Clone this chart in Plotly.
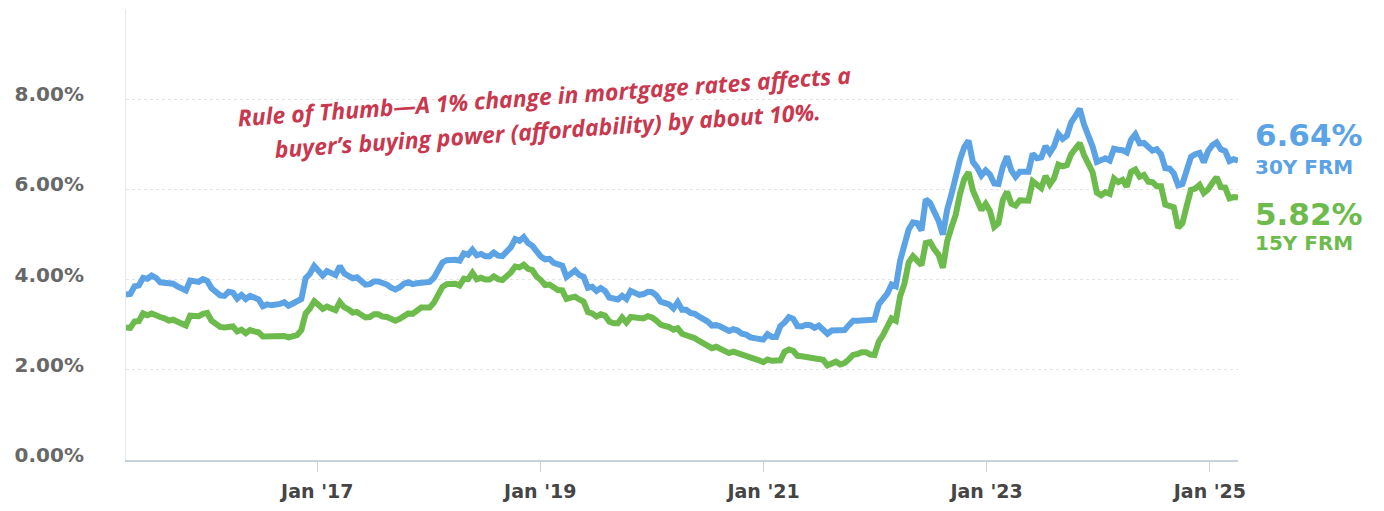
import pandas as pd
import plotly.graph_objects as go

# Weekly Freddie Mac PMMS readings, sampled every two weeks (Thursdays)
start_date = "2015-04-16"
step = "14D"

rate_30y = [
    # 2015
    3.67, 3.68, 3.85, 3.87, 4.04, 4.02, 4.09, 4.04, 3.94, 3.93, 3.89, 3.91, 3.85, 3.82, 3.76, 3.98, 3.95, 3.95, 4.01,
    # 2016
    3.97, 3.81, 3.72, 3.65, 3.64, 3.73, 3.71, 3.58, 3.66, 3.57, 3.64, 3.60, 3.56, 3.41, 3.45, 3.43, 3.43, 3.46, 3.50, 3.42,
    3.47, 3.54, 3.57, 4.03, 4.13, 4.30,
    # 2017
    4.20, 4.09, 4.19, 4.15, 4.10, 4.30, 4.14, 4.08, 4.03, 4.05, 3.95, 3.89, 3.90, 3.96, 3.96, 3.93, 3.89, 3.82, 3.78, 3.83,
    3.91, 3.94, 3.90, 3.92, 3.94, 3.94,
    # 2018
    3.95, 4.04, 4.22, 4.38, 4.43, 4.44, 4.44, 4.42, 4.58, 4.55, 4.66, 4.54, 4.57, 4.52, 4.52, 4.60, 4.53, 4.52, 4.60, 4.72,
    4.90, 4.86, 4.94, 4.81, 4.75, 4.62,
    # 2019
    4.51, 4.45, 4.46, 4.37, 4.35, 4.31, 4.06, 4.12, 4.20, 4.10, 4.06, 3.82, 3.84, 3.75, 3.81, 3.75, 3.60, 3.58, 3.56, 3.64,
    3.57, 3.75, 3.69, 3.66, 3.68, 3.73,
    # 2020
    3.72, 3.65, 3.51, 3.47, 3.45, 3.36, 3.50, 3.33, 3.33, 3.26, 3.24, 3.18, 3.13, 3.07, 2.98, 2.99, 2.96, 2.91, 2.86, 2.90,
    2.87, 2.80, 2.78, 2.72, 2.71, 2.67, 2.67,
    # 2021
    2.79, 2.73, 2.73, 2.97, 3.05, 3.17, 3.13, 2.97, 2.96, 3.00, 2.99, 2.93, 2.98, 2.88, 2.80, 2.87, 2.87, 2.88, 2.88, 2.99,
    3.09, 3.09, 3.10, 3.11, 3.12, 3.11,
    # 2022
    3.45, 3.55, 3.69, 3.89, 3.85, 4.42, 4.72, 5.11, 5.27, 5.25, 5.09, 5.78, 5.70, 5.51, 5.30, 5.00, 5.55, 5.89, 6.29, 6.66,
    6.94, 7.08, 6.61, 6.49, 6.31, 6.42,
    # 2023
    6.33, 6.13, 6.12, 6.50, 6.73, 6.42, 6.28, 6.39, 6.39, 6.39, 6.79, 6.69, 6.71, 6.96, 6.81, 6.96, 7.23, 7.12, 7.19, 7.49,
    7.63, 7.79, 7.44, 7.22, 6.95, 6.61,
    # 2024
    6.66, 6.69, 6.64, 6.90, 6.88, 6.87, 6.82, 7.10, 7.22, 7.02, 7.03, 6.95, 6.86, 6.89, 6.78, 6.47, 6.46, 6.35, 6.09, 6.12,
    6.44, 6.72, 6.78, 6.81, 6.60, 6.85,
    # 2025
    6.98, 7.04, 6.89, 6.85, 6.63, 6.67, 6.64,
]

rate_15y = [
    # 2015
    2.94, 2.93, 3.07, 3.08, 3.25, 3.21, 3.25, 3.20, 3.17, 3.14, 3.09, 3.11, 3.07, 3.03, 2.98, 3.20, 3.18, 3.19, 3.24,
    # 2016
    3.26, 3.09, 3.00, 2.95, 2.94, 2.96, 2.96, 2.85, 2.89, 2.81, 2.88, 2.85, 2.83, 2.74, 2.74, 2.74, 2.74, 2.76, 2.75, 2.72,
    2.76, 2.77, 2.88, 3.25, 3.36, 3.52,
    # 2017
    3.44, 3.35, 3.40, 3.37, 3.32, 3.50, 3.39, 3.34, 3.27, 3.28, 3.20, 3.16, 3.17, 3.23, 3.23, 3.18, 3.17, 3.13, 3.09, 3.13,
    3.20, 3.25, 3.24, 3.32, 3.38, 3.38,
    # 2018
    3.38, 3.49, 3.68, 3.84, 3.90, 3.90, 3.91, 3.87, 4.02, 4.01, 4.15, 4.01, 4.04, 4.00, 4.00, 4.07, 4.01, 3.99, 4.06, 4.16,
    4.29, 4.27, 4.33, 4.24, 4.21, 4.07,
    # 2019
    3.99, 3.88, 3.89, 3.81, 3.77, 3.76, 3.57, 3.60, 3.62, 3.56, 3.51, 3.28, 3.25, 3.18, 3.23, 3.20, 3.07, 3.03, 3.03, 3.16,
    3.05, 3.17, 3.16, 3.15, 3.14, 3.19,
    # 2020
    3.16, 3.09, 3.00, 2.97, 2.95, 2.89, 2.92, 2.80, 2.77, 2.73, 2.70, 2.64, 2.59, 2.56, 2.48, 2.51, 2.46, 2.42, 2.37, 2.40,
    2.37, 2.33, 2.33, 2.28, 2.26, 2.21, 2.17,
    # 2021
    2.23, 2.20, 2.19, 2.21, 2.40, 2.45, 2.42, 2.31, 2.30, 2.29, 2.25, 2.24, 2.26, 2.22, 2.10, 2.15, 2.18, 2.12, 2.15, 2.23,
    2.33, 2.35, 2.39, 2.39, 2.34, 2.33,
    # 2022
    2.62, 2.77, 2.93, 3.14, 3.09, 3.63, 3.91, 4.38, 4.52, 4.43, 4.32, 4.81, 4.83, 4.67, 4.55, 4.26, 4.85, 5.16, 5.44, 5.90,
    6.23, 6.38, 5.98, 5.76, 5.54, 5.68,
    # 2023
    5.52, 5.17, 5.25, 5.76, 5.95, 5.68, 5.64, 5.76, 5.75, 5.75, 6.18, 6.10, 6.03, 6.30, 6.11, 6.25, 6.55, 6.51, 6.54, 6.78,
    6.92, 7.03, 6.76, 6.56, 6.38, 5.93,
    # 2024
    5.87, 5.94, 5.90, 6.24, 6.16, 6.21, 6.06, 6.39, 6.44, 6.28, 6.32, 6.17, 6.16, 6.07, 6.07, 5.66, 5.62, 5.60, 5.15, 5.25,
    5.63, 5.99, 6.02, 6.10, 5.92, 6.00,
    # 2025
    6.14, 6.27, 6.05, 6.04, 5.80, 5.83, 5.82,
]

y_tick_values = [0, 2, 4, 6, 8, 10]
y_tick_labels = ["0.00%", "2.00%", "4.00%", "6.00%", "8.00%", ""]
x_tick_values = ["2017-01-01", "2019-01-01", "2021-01-01", "2023-01-01", "2025-01-01"]
x_tick_labels = ["Jan '17", "Jan '19", "Jan '21", "Jan '23", "Jan '25"]
series_names = ["30Y FRM", "15Y FRM"]
note_lines = [
    "Rule of Thumb\u2014A 1% change in mortgage rates affects a",
    "buyer\u2019s buying power (affordability) by about 10%.",
]

dates = pd.date_range(start=start_date, periods=len(rate_30y), freq=step)

BLUE = "#5ba3e4"
GREEN = "#6dbb4c"
NOTE = "#c8384f"

fig = go.Figure()
fig.add_trace(go.Scatter(x=dates, y=rate_30y, mode="lines", name=series_names[0],
                         line=dict(color=BLUE, width=6, shape="linear")))
fig.add_trace(go.Scatter(x=dates, y=rate_15y, mode="lines", name=series_names[1],
                         line=dict(color=GREEN, width=6, shape="linear")))

W, H = 1384, 511
L, R, T, B = 126, 146, 9, 47
pw, ph = W - L - R, H - T - B

def px(x):
    return (x - L) / pw

def py(y):
    return (H - B - y) / ph

fig.update_layout(
    width=W, height=H,
    margin=dict(l=L, r=R, t=T, b=B, pad=0),
    paper_bgcolor="white", plot_bgcolor="white",
    showlegend=False,
    xaxis=dict(
        range=[dates[0], dates[-1]],
        tickvals=x_tick_values, ticktext=x_tick_labels,
        showgrid=False, zeroline=False,
        showline=True, linecolor="#c6d3de", linewidth=1.5,
        ticks="outside", ticklen=10, tickcolor="#d2d2d2", tickwidth=1,
        tickfont=dict(family="DejaVu Sans", size=19, color="#454545", weight="bold"),
        ticklabelstandoff=3,
    ),
    yaxis=dict(
        range=[0, 10],
        tickvals=y_tick_values, ticktext=y_tick_labels,
        showgrid=True, gridcolor="#e4e4e4", griddash="dot", gridwidth=1,
        zeroline=False, showline=True, linecolor="#e2e9f0", linewidth=1,
        ticks="",
        tickfont=dict(family="DejaVu Sans", size=20, color="#686868", weight="bold"),
        ticklabelstandoff=37, ticklabelshift=-5,
    ),
)

# Rule-of-thumb note
for line_text, cx, cy in [(note_lines[0], 544, 97), (note_lines[1], 547, 131)]:
    fig.add_annotation(text="<b><i>" + line_text + "</i></b>", xref="paper", yref="paper",
                       x=px(cx), y=py(cy), xanchor="center", yanchor="middle", showarrow=False,
                       textangle=-4, font=dict(family="Open Sans", size=23, color=NOTE))

# Latest-value labels
lbl_x = px(1253)
fig.add_annotation(text=f"<b>{rate_30y[-1]:.2f}%</b>", xref="paper", yref="paper", x=lbl_x, y=py(136),
                   xanchor="left", yanchor="middle", showarrow=False,
                   font=dict(family="DejaVu Sans", size=31, color=BLUE))
fig.add_annotation(text=f"<b>{series_names[0]}</b>", xref="paper", yref="paper", x=lbl_x, y=py(168),
                   xanchor="left", yanchor="middle", showarrow=False,
                   font=dict(family="DejaVu Sans", size=20, color=BLUE))
fig.add_annotation(text=f"<b>{rate_15y[-1]:.2f}%</b>", xref="paper", yref="paper", x=lbl_x, y=py(216),
                   xanchor="left", yanchor="middle", showarrow=False,
                   font=dict(family="DejaVu Sans", size=31, color=GREEN))
fig.add_annotation(text=f"<b>{series_names[1]}</b>", xref="paper", yref="paper", x=lbl_x, y=py(245),
                   xanchor="left", yanchor="middle", showarrow=False,
                   font=dict(family="DejaVu Sans", size=20, color=GREEN))

fig.write_html("out.html")
